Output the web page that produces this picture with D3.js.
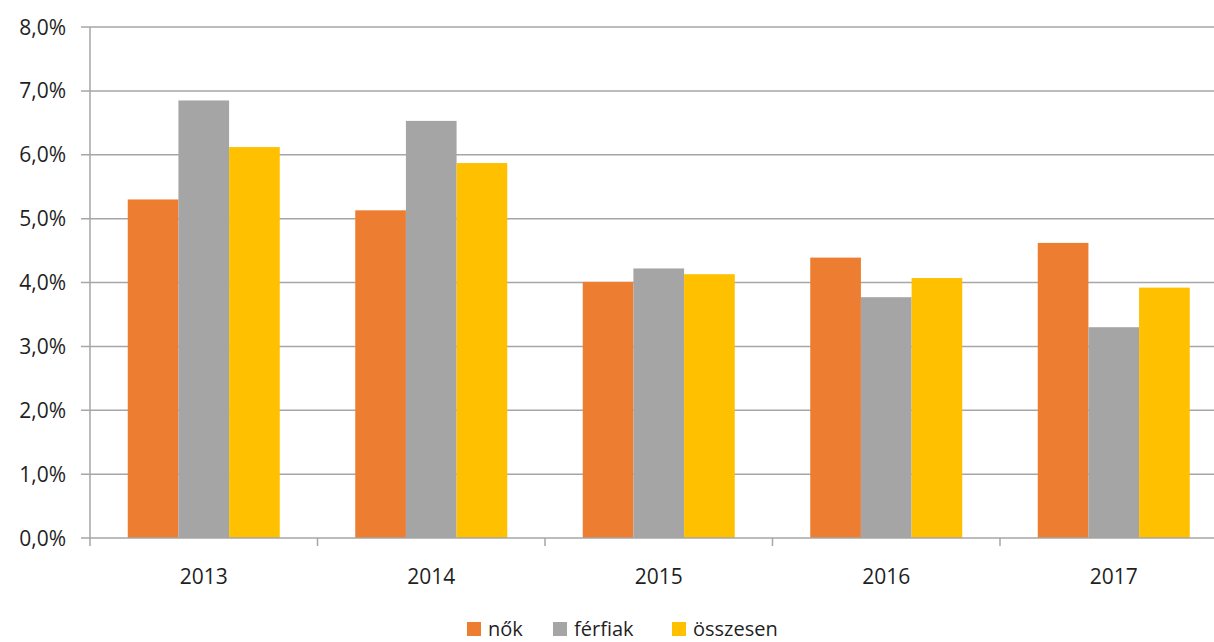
<!DOCTYPE html>
<html>
<head>
<meta charset="utf-8">
<script src="https://cdn.jsdelivr.net/npm/d3@7"></script>
<style>
  body { margin: 0; background: #fff; }
  svg { display: block; }
  text { font-family: "Open Sans", "Noto Sans", sans-serif; fill: #1f1f1f; }
</style>
</head>
<body>
<div id="chart"></div>
<script>
// Chart data
const years = ["2013", "2014", "2015", "2016", "2017"];
const seriesNames = ["nők", "férfiak", "összesen"];
const seriesColors = ["#ED7D31", "#A5A5A5", "#FFC000"];
const nok = [5.30, 5.13, 4.01, 4.39, 4.62];
const ferfiak = [6.85, 6.53, 4.22, 3.77, 3.30];
const osszesen = [6.12, 5.87, 4.13, 4.07, 3.92];
const yTicks = [0, 1, 2, 3, 4, 5, 6, 7, 8];

const seriesValues = [nok, ferfiak, osszesen];

const width = 1214, height = 642;
const margin = { left: 90, top: 27, bottom: 104 };
const plotRight = 1227.5;

const svg = d3.select("#chart").append("svg")
    .attr("width", width)
    .attr("height", height);

const y = d3.scaleLinear()
    .domain([0, 8])
    .range([height - margin.bottom, margin.top]);

const x = d3.scaleBand()
    .domain(years)
    .range([margin.left, plotRight])
    .padding(0);

const xInner = d3.scaleBand()
    .domain(seriesNames)
    .range([0, x.bandwidth()])
    .paddingInner(0)
    .paddingOuter(0.745);

const fmt = v => d3.format(".1f")(v).replace(".", ",") + "%";

// Gridlines
svg.append("g")
    .selectAll("line")
    .data(yTicks.filter(d => d > 0))
    .enter()
    .append("line")
    .attr("x1", margin.left - 9)
    .attr("x2", width)
    .attr("y1", d => y(d))
    .attr("y2", d => y(d))
    .attr("stroke", "#A6A6A6")
    .attr("stroke-width", 1.5);

// Y labels
svg.append("g")
    .selectAll("text")
    .data(yTicks)
    .enter()
    .append("text")
    .attr("x", 66)
    .attr("y", d => y(d))
    .attr("dy", "0.36em")
    .attr("text-anchor", "end")
    .style("font-size", "21px")
    .text(fmt);

// Bars
const group = svg.append("g")
    .selectAll("g")
    .data(years)
    .enter()
    .append("g")
    .attr("transform", d => `translate(${x(d)},0)`);

group.selectAll("rect")
    .data((d, i) => seriesNames.map((s, j) => ({ s: s, v: seriesValues[j][i], c: seriesColors[j] })))
    .enter()
    .append("rect")
    .attr("x", d => xInner(d.s))
    .attr("width", xInner.bandwidth())
    .attr("y", d => y(d.v))
    .attr("height", d => y(0) - y(d.v))
    .attr("fill", d => d.c);

// Axes lines
svg.append("line")
    .attr("x1", margin.left).attr("x2", margin.left)
    .attr("y1", y(8)).attr("y2", y(0) + 8)
    .attr("stroke", "#A6A6A6").attr("stroke-width", 1.5);

svg.append("line")
    .attr("x1", margin.left - 9).attr("x2", width)
    .attr("y1", y(0)).attr("y2", y(0))
    .attr("stroke", "#A6A6A6").attr("stroke-width", 1.5);

svg.append("g")
    .selectAll("line")
    .data(years.slice(1))
    .enter()
    .append("line")
    .attr("x1", d => x(d)).attr("x2", d => x(d))
    .attr("y1", y(0)).attr("y2", y(0) + 8)
    .attr("stroke", "#A6A6A6").attr("stroke-width", 1.5);

// X labels
svg.append("g")
    .selectAll("text")
    .data(years)
    .enter()
    .append("text")
    .attr("x", d => x(d) + x.bandwidth() / 2)
    .attr("y", 576)
    .attr("dy", "0.36em")
    .attr("text-anchor", "middle")
    .style("font-size", "21px")
    .text(d => d);

// Legend
const legendX = [467, 553, 672];
const legend = svg.append("g")
    .selectAll("g")
    .data(seriesNames)
    .enter()
    .append("g")
    .attr("transform", (d, i) => `translate(${legendX[i]},622)`);

legend.append("rect")
    .attr("width", 14)
    .attr("height", 14)
    .attr("fill", (d, i) => seriesColors[i]);

legend.append("text")
    .attr("x", 21)
    .attr("y", 7)
    .attr("dy", "0.33em")
    .style("font-size", "20px")
    .text(d => d);
</script>
</body>
</html>
